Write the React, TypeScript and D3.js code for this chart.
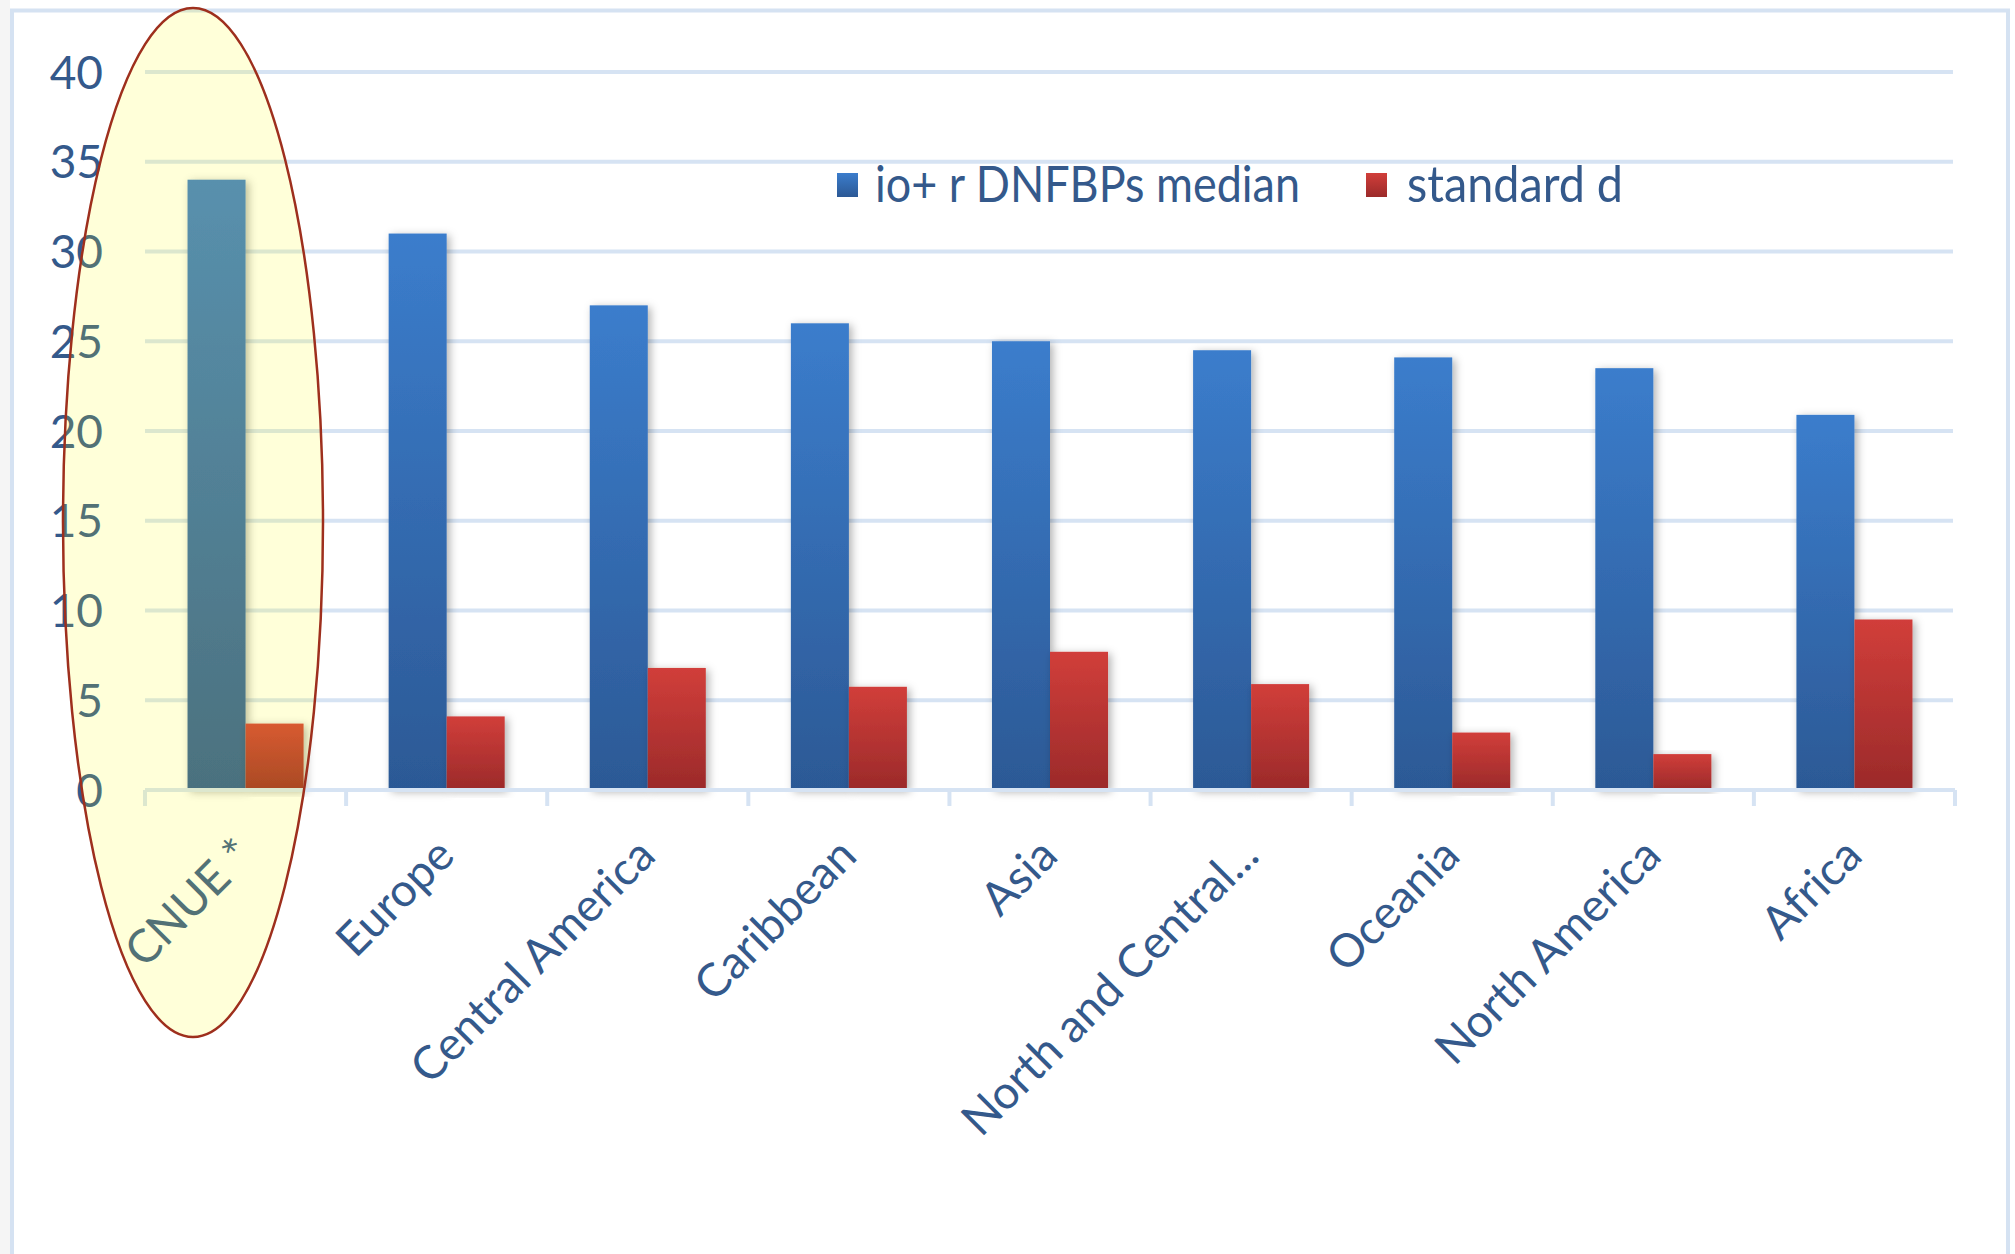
import React from "react";
import * as d3 from "d3";

// Regions and their values
const categories = [
  "CNUE *",
  "Europe",
  "Central America",
  "Caribbean",
  "Asia",
  "North and Central...",
  "Oceania",
  "North America",
  "Africa",
];
const medianValues = [34, 31, 27, 26, 25, 24.5, 24.1, 23.5, 20.9];
const stdValues = [3.7, 4.1, 6.8, 5.75, 7.7, 5.9, 3.2, 2.0, 9.5];
const seriesNames = ["io+ r DNFBPs median", "standard d"];
const yTicks = [0, 5, 10, 15, 20, 25, 30, 35, 40];

const W = 2015;
const H = 1254;
const plotLeft = 145;
const plotRight = 1955;
const plotTop = 72;
const plotBottom = 790;

const textColor = "#34598b";
const gridColor = "#d6e3f3";
const font = "Lato, 'Open Sans', sans-serif";

export default function App() {
  const x0 = d3
    .scaleBand<string>()
    .domain(categories)
    .range([plotLeft, plotRight])
    .paddingInner(0.423)
    .paddingOuter(0.2115);
  const x1 = d3
    .scaleBand<string>()
    .domain(seriesNames)
    .range([0, x0.bandwidth()]);
  const y = d3.scaleLinear().domain([0, 40]).range([plotBottom, plotTop]);

  const step = x0.step();
  const tickXs = d3.range(categories.length + 1).map((i) => plotLeft + i * step);

  const rows = categories.map((c, i) => ({
    cat: c,
    vals: [medianValues[i], stdValues[i]],
  }));
  const fills = ["url(#gBlue)", "url(#gRed)"];

  return (
    <svg
      width={W}
      height={H}
      style={{ position: "absolute", left: 0, top: 0, background: "#fff" }}
      fontFamily={font}
    >
      <defs>
        <linearGradient id="gBlue" x1="0" y1="0" x2="0" y2="1">
          <stop offset="0" stopColor="#3b7dcc" />
          <stop offset="1" stopColor="#2c5995" />
        </linearGradient>
        <linearGradient id="gRed" x1="0" y1="0" x2="0" y2="1">
          <stop offset="0" stopColor="#d13e3a" />
          <stop offset="1" stopColor="#9b2a2a" />
        </linearGradient>
        <filter id="shadow" x="-30%" y="-10%" width="160%" height="120%">
          <feDropShadow dx="3" dy="2" stdDeviation="4" floodColor="#000" floodOpacity="0.3" />
        </filter>
      </defs>

      {/* page strip and frame */}
      <rect x={0} y={0} width={10} height={H} fill="#f5f5f5" />
      <rect
        x={12}
        y={10.5}
        width={1996}
        height={H + 40}
        fill="#fff"
        stroke="#d5e2f2"
        strokeWidth={4}
      />

      {/* gridlines */}
      {yTicks
        .filter((t) => t > 0)
        .map((t) => (
          <line
            key={t}
            x1={plotLeft}
            x2={plotRight - 2}
            y1={y(t)}
            y2={y(t)}
            stroke={gridColor}
            strokeWidth={4}
          />
        ))}

      {/* y tick labels */}
      {yTicks.map((t) => (
        <text
          key={t}
          x={103}
          y={y(t)}
          dy="0.36em"
          textAnchor="end"
          fontSize={46}
          fill={textColor}
        >
          {t}
        </text>
      ))}

      {/* bars */}
      {rows.map((r) => (
        <g key={r.cat} transform={`translate(${x0(r.cat)},0)`}>
          {r.vals.map((v, j) => (
            <rect
              key={j}
              x={x1(seriesNames[j])}
              y={y(v)}
              width={x1.bandwidth()}
              height={y(0) - y(v)}
              fill={fills[j]}
              filter="url(#shadow)"
            />
          ))}
        </g>
      ))}

      {/* category axis */}
      <line
        x1={plotLeft}
        x2={plotRight}
        y1={plotBottom}
        y2={plotBottom}
        stroke={gridColor}
        strokeWidth={4}
      />
      {tickXs.map((tx, i) => (
        <line
          key={i}
          x1={tx}
          x2={tx}
          y1={plotBottom}
          y2={plotBottom + 16}
          stroke={gridColor}
          strokeWidth={4}
        />
      ))}
      {categories.map((c) => {
        const cx = (x0(c) as number) + x0.bandwidth() / 2;
        return (
          <text
            key={c}
            transform={`translate(${cx + 10},${plotBottom + 68}) rotate(-45)`}
            textAnchor="end"
            fontSize={46}
            fill={textColor}
          >
            {c}
          </text>
        );
      })}

      {/* legend */}
      <g>
        <rect x={837} y={173} width={21} height={24} fill="url(#gBlue)" />
        <text
          x={875}
          y={202}
          fontSize={50}
          fill={textColor}
          textLength={425}
          lengthAdjust="spacingAndGlyphs"
        >
          {seriesNames[0]}
        </text>
        <rect x={1366} y={173} width={21} height={24} fill="url(#gRed)" />
        <text
          x={1407}
          y={202}
          fontSize={50}
          fill={textColor}
          textLength={216}
          lengthAdjust="spacingAndGlyphs"
        >
          {seriesNames[1]}
        </text>
      </g>

      {/* highlight around the first group */}
      <ellipse
        cx={193}
        cy={522.5}
        rx={130}
        ry={514.5}
        fill="#ffff00"
        fillOpacity={0.15}
        stroke="#9e2f1d"
        strokeWidth={2.5}
      />
    </svg>
  );
}
